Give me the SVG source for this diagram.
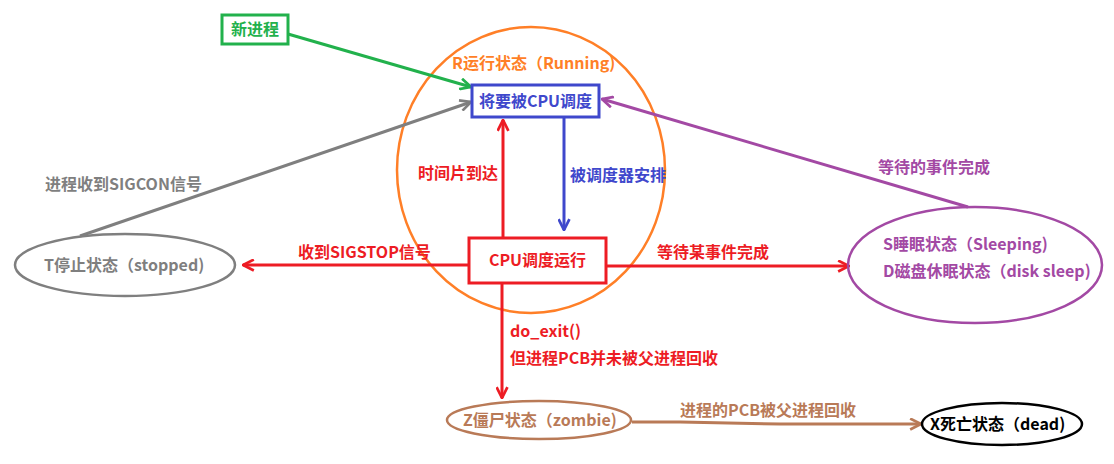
<svg xmlns="http://www.w3.org/2000/svg" width="1114" height="464" viewBox="0 0 1114 464">
<style>
text{font-family:"Noto Sans CJK SC","Microsoft YaHei",sans-serif;font-weight:bold;font-size:16px}
.c{fill:none;stroke-width:3}
.red{fill:#ed1c24}.blue{fill:#3f48cc}.green{fill:#22b14c}.gray{fill:#7f7f7f}.purple{fill:#a349a4}.brown{fill:#b97a57}.orange{fill:#ff7f27}.black{fill:#000}
</style>
<defs>
<marker id="mr" viewBox="0 0 12 12" refX="11" refY="6" markerWidth="13" markerHeight="13" markerUnits="userSpaceOnUse" orient="auto"><path d="M1,1 L11,6 L1,11" fill="none" stroke="#ed1c24" stroke-width="2.5"/></marker>
<marker id="mb" viewBox="0 0 12 12" refX="11" refY="6" markerWidth="13" markerHeight="13" markerUnits="userSpaceOnUse" orient="auto"><path d="M1,1 L11,6 L1,11" fill="none" stroke="#3f48cc" stroke-width="2.5"/></marker>
<marker id="mg" viewBox="0 0 12 12" refX="11" refY="6" markerWidth="13" markerHeight="13" markerUnits="userSpaceOnUse" orient="auto"><path d="M1,1 L11,6 L1,11" fill="none" stroke="#22b14c" stroke-width="2.5"/></marker>
<marker id="mgr" viewBox="0 0 12 12" refX="11" refY="6" markerWidth="13" markerHeight="13" markerUnits="userSpaceOnUse" orient="auto"><path d="M1,1 L11,6 L1,11" fill="none" stroke="#7f7f7f" stroke-width="2.5"/></marker>
<marker id="mp" viewBox="0 0 12 12" refX="11" refY="6" markerWidth="13" markerHeight="13" markerUnits="userSpaceOnUse" orient="auto"><path d="M1,1 L11,6 L1,11" fill="none" stroke="#a349a4" stroke-width="2.5"/></marker>
<marker id="mbr" viewBox="0 0 12 12" refX="11" refY="6" markerWidth="13" markerHeight="13" markerUnits="userSpaceOnUse" orient="auto"><path d="M1,1 L11,6 L1,11" fill="none" stroke="#b97a57" stroke-width="2.5"/></marker>
</defs>
<rect width="1114" height="464" fill="#fff"/>

<g id="running">
<ellipse cx="531" cy="170" rx="134" ry="143" fill="none" stroke="#ff7f27" stroke-width="2.5"/>
<text class="orange" x="452" y="69">R运行状态（Running)</text>
</g>

<g id="connectors">
<line class="c" x1="288" y1="34" x2="471" y2="87" stroke="#22b14c" marker-end="url(#mg)"/>
<line class="c" x1="80" y1="236" x2="471" y2="102" stroke="#7f7f7f" marker-end="url(#mgr)"/>
<text class="gray" x="45" y="190">进程收到SIGCON信号</text>
<line class="c" x1="503" y1="238" x2="503" y2="120" stroke="#ed1c24" marker-end="url(#mr)"/>
<text class="red" x="418" y="179">时间片到达</text>
<line class="c" x1="564" y1="117" x2="564" y2="230" stroke="#3f48cc" marker-end="url(#mb)"/>
<text class="blue" x="570" y="181">被调度器安排</text>
<line class="c" x1="469" y1="265" x2="243" y2="265" stroke="#ed1c24" marker-end="url(#mr)"/>
<text class="red" x="298" y="258">收到SIGSTOP信号</text>
<line class="c" x1="606" y1="266" x2="849" y2="266" stroke="#ed1c24" marker-end="url(#mr)"/>
<text class="red" x="657" y="258">等待某事件完成</text>
<line class="c" x1="968" y1="207" x2="602" y2="99" stroke="#a349a4" marker-end="url(#mp)"/>
<text class="purple" x="878" y="173">等待的事件完成</text>
<line class="c" x1="502" y1="283" x2="502" y2="398" stroke="#ed1c24" marker-end="url(#mr)"/>
<text class="red" x="510" y="337">do_exit()</text>
<text class="red" x="510" y="364">但进程PCB并未被父进程回收</text>
<polyline class="c" points="632,422 680,422 780,424 921,424" stroke="#b97a57" marker-end="url(#mbr)"/>
<text class="brown" x="680" y="416">进程的PCB被父进程回收</text>
</g>

<g id="new">
<rect x="222" y="15" width="66" height="29" fill="#fff" stroke="#22b14c" stroke-width="3"/>
<text class="green" x="255" y="35" text-anchor="middle">新进程</text>
</g>

<g id="toschedule">
<rect x="472" y="85" width="127" height="32" fill="#fff" stroke="#3f48cc" stroke-width="3"/>
<text class="blue" x="535.5" y="107" text-anchor="middle">将要被CPU调度</text>
</g>

<g id="cpurun">
<rect x="469" y="238" width="137" height="45" fill="#fff" stroke="#ed1c24" stroke-width="3"/>
<text class="red" x="537.5" y="266" text-anchor="middle">CPU调度运行</text>
</g>

<g id="stopped">
<ellipse cx="125" cy="265" rx="110" ry="31" fill="none" stroke="#7f7f7f" stroke-width="2.5"/>
<text class="gray" x="44" y="271">T停止状态（stopped)</text>
</g>

<g id="sleeping">
<ellipse cx="975" cy="265" rx="127" ry="58" fill="none" stroke="#a349a4" stroke-width="2.5"/>
<text class="purple" x="883" y="250">S睡眠状态（Sleeping)</text>
<text class="purple" x="883" y="277">D磁盘休眠状态（disk sleep)</text>
</g>

<g id="zombie">
<ellipse cx="539" cy="420" rx="92" ry="19" fill="none" stroke="#b97a57" stroke-width="2.5"/>
<text class="brown" x="463" y="426">Z僵尸状态（zombie)</text>
</g>

<g id="dead">
<ellipse cx="1002" cy="424" rx="80" ry="21" fill="none" stroke="#000" stroke-width="2.5"/>
<text class="black" x="930" y="430">X死亡状态（dead)</text>
</g>
</svg>
